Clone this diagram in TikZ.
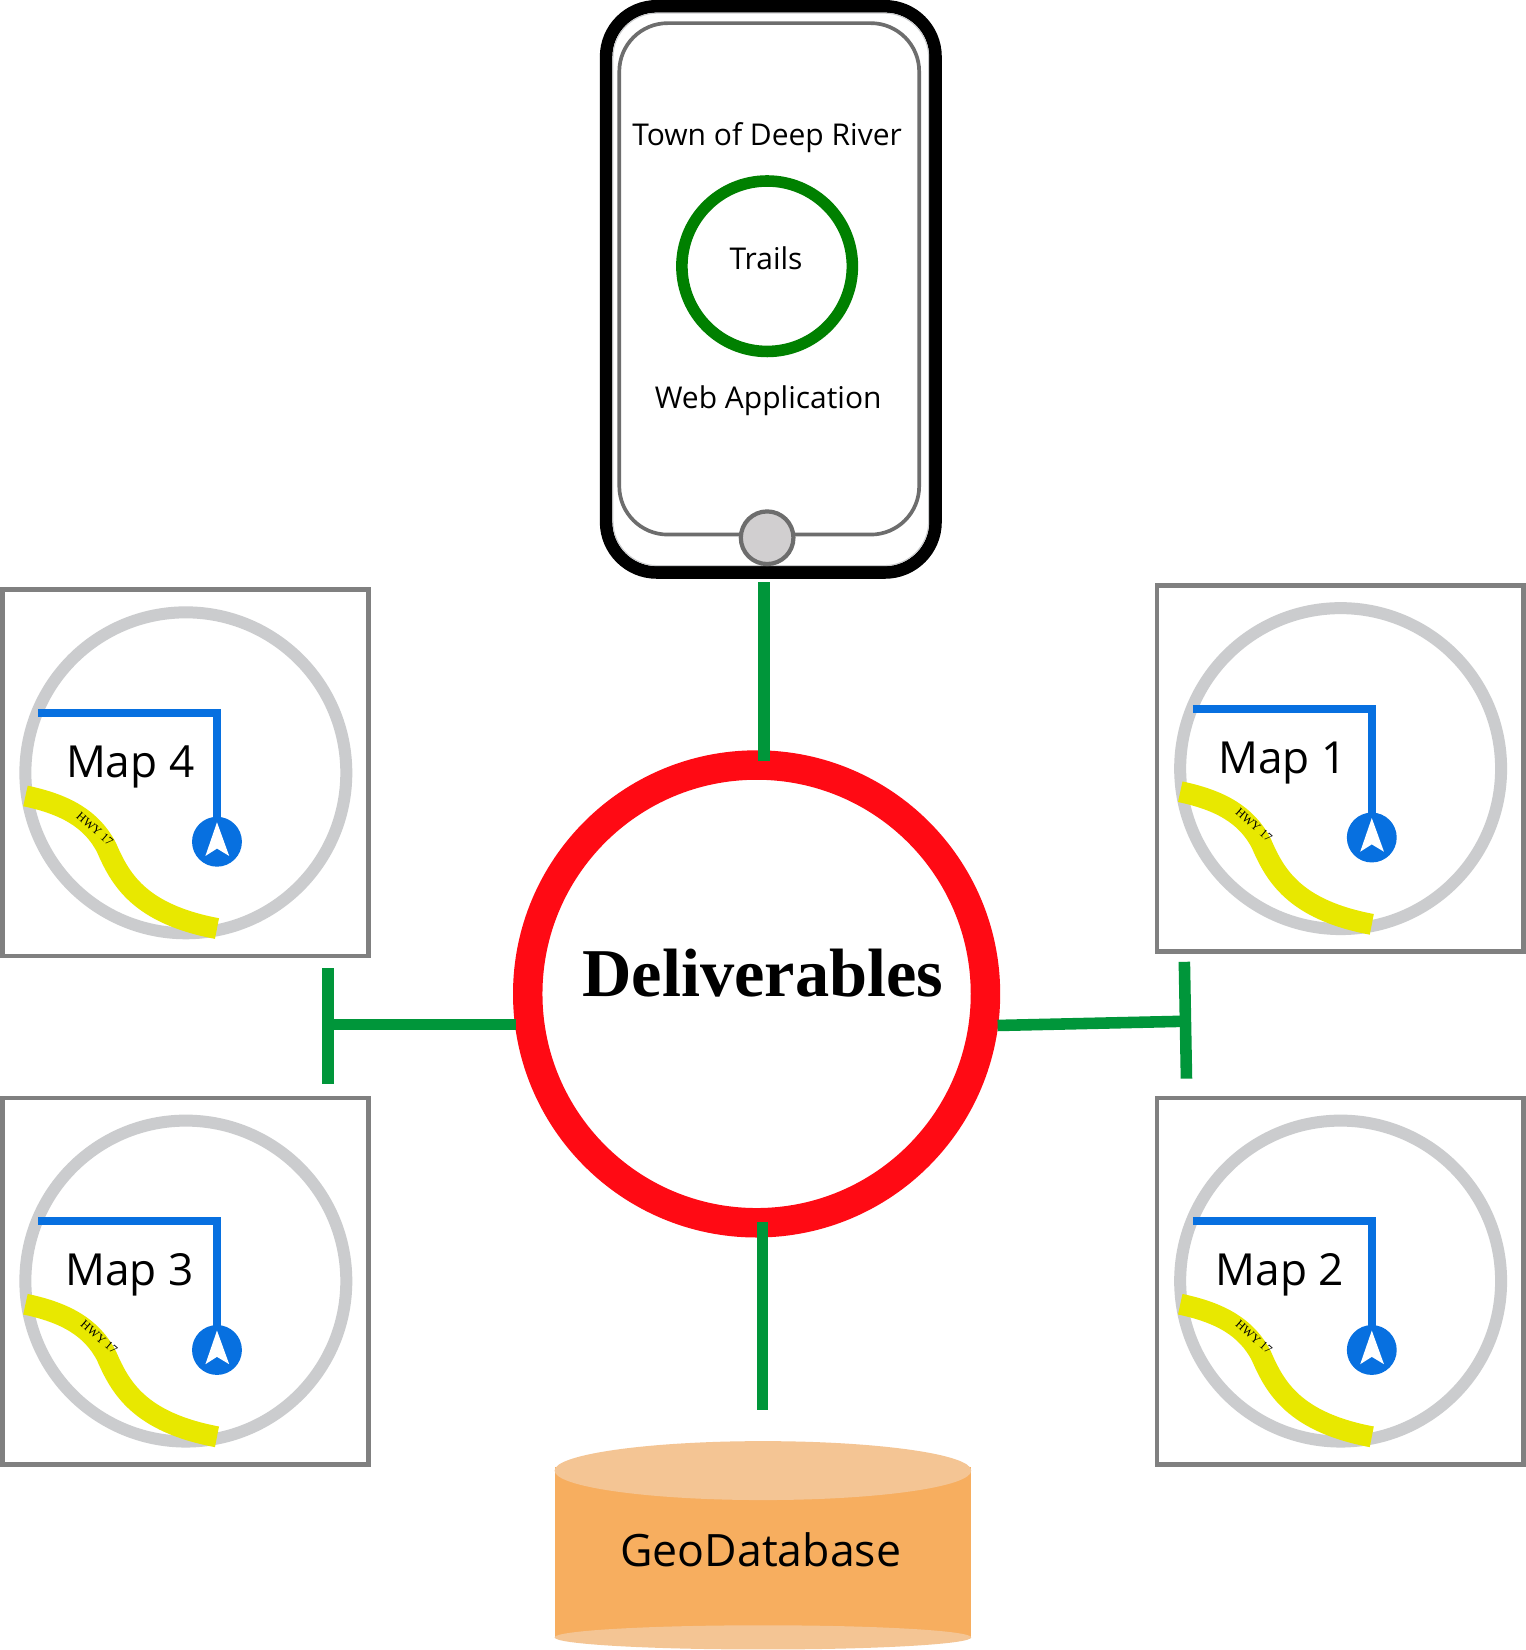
\documentclass[tikz,border=0pt]{standalone}
\usepackage{fontspec}
\newfontfamily\bodyfont{Open Sans}
\newfontfamily\titlefont{Liberation Serif}
\definecolor{greenline}{HTML}{00963A}
\definecolor{ringred}{HTML}{FF0A14}
\definecolor{boxgray}{HTML}{808080}
\definecolor{ringgray}{HTML}{CBCCCE}
\definecolor{pathblue}{HTML}{0770E0}
\definecolor{roadyellow}{HTML}{E8E800}
\definecolor{appgreen}{HTML}{008000}
\definecolor{cylbody}{HTML}{F7AE5F}
\definecolor{cyltop}{HTML}{F4C594}
\definecolor{phonegray}{HTML}{6D6D6D}
\definecolor{homegray}{HTML}{D1CFD0}
\tikzset{
  connector/.style={draw=greenline,line width=11pt},
  mapframe/.style={draw=boxgray,line width=4.5pt,fill=white,minimum width=348pt,minimum height=348pt,inner sep=0pt,outer sep=0pt,anchor=north west},
  mapring/.style={circle,draw=ringgray,line width=11.4pt,minimum size=305pt,inner sep=0pt},
  maplabel/.style={font=\bodyfont\fontsize{42}{42}\selectfont,anchor=base,inner sep=0pt},
  hwylabel/.style={font=\titlefont\fontsize{11.5}{11.5}\selectfont,rotate=-41,inner sep=0pt},
  apptext/.style={font=\bodyfont\fontsize{28.5}{30}\selectfont,anchor=base,inner sep=0pt},
}
% #1 id, #2 x, #3 y, #4 label, #5 label x offset, #6 road label x offset
\newcommand{\mapcard}[6]{%
  \begin{scope}[shift={(#2,#3)}]
    \node[mapframe] (#1frame) at (0,0) {};
    \node[mapring] (#1ring) at (174.4,174) {};
    \draw[pathblue,line width=7.5pt] (34,117) -- (204,117) -- (204,225);
    \fill[pathblue] (204,239.5) circle (23.7);
    \fill[white] (204,221) -- (215.6,253) -- (204,246) -- (193,253) -- cycle;
    \draw[roadyellow,line width=20pt] (22,196) .. controls (60,204) and (85,218) .. (99,245)
       .. controls (112,275) and (130,308) .. (204,322);
    \node[maplabel] (#1label) at (#5,178.5) {#4};
    \node[hwylabel] (#1hwy) at (#6,227.5) {HWY 17};
  \end{scope}}
\begin{document}
\begin{tikzpicture}[x=1pt,y=-1pt]
\useasboundingbox[fill=white] (0,0) rectangle (1450,1568);
% phone
\node[draw=black,line width=12pt,rounded corners=48pt,minimum width=313pt,minimum height=538pt,inner sep=0pt] (phone) at (732.5,275) {};
\node[draw=ringgray,line width=1pt,rounded corners=42pt,minimum width=300pt,minimum height=525pt,inner sep=0pt] (phonerim) at (732.5,275) {};
\node[draw=phonegray,line width=3.5pt,rounded corners=46pt,minimum width=285pt,minimum height=486pt,inner sep=0pt] (screen) at (731,265) {};
\node[circle,draw=phonegray,fill=homegray,line width=4pt,minimum size=50pt,inner sep=0pt] (home) at (729,511) {};
\node[apptext] (town) at (729,138) {Town of Deep River};
\node[circle,draw=appgreen,line width=11pt,minimum size=162pt,inner sep=0pt] (trailring) at (729,253) {};
\node[apptext] (trails) at (728,256) {Trails};
\node[apptext] (web) at (730,388) {Web Application};
% cylinder
\begin{scope}
  \clip (0,0) rectangle (1450,1568);
  \fill[cylbody] (527,1394) -- (527,1555.5) -- (923,1555.5) -- (923,1394) -- cycle;
  \fill[cyltop] (725,1556) ellipse [x radius=198,y radius=11.5];
\end{scope}
\fill[cyltop] (725,1397.5) ellipse [x radius=198,y radius=28];
\node[font=\bodyfont\fontsize{42.4}{44}\selectfont,anchor=base,inner sep=0pt] (geo) at (723,1489) {GeoDatabase};
% maps
\mapcard{mapfour}{2.2}{560.4}{Map 4}{121.5}{88}
\mapcard{mapone}{1099.6}{556.4}{Map 1}{119}{92}
\mapcard{mapthree}{2.2}{1043.4}{Map 3}{121}{92}
\mapcard{maptwo}{1099.6}{1043.4}{Map 2}{116.5}{92}
% hub
\node[circle,draw=ringred,fill=white,line width=28pt,minimum size=435pt,inner sep=0pt] (hub) at (719,944.5) {};
\node[font=\titlefont\bfseries\fontsize{65}{66}\selectfont,anchor=base,inner sep=0pt] (title) at (725,947) {Deliverables};
% connectors
\coordinate (topa) at (726,723);
\coordinate (topb) at (726,553);
\coordinate (bota) at (724.5,1161);
\coordinate (botb) at (724.5,1340);
\coordinate (lefta) at (490,973.5);
\coordinate (leftb) at (312,973.5);
\coordinate (leftt) at (311.5,920);
\coordinate (leftu) at (311.5,1030);
\coordinate (righta) at (948,974.5);
\coordinate (rightb) at (1126,970.5);
\coordinate (rightt) at (1125.5,914);
\coordinate (rightu) at (1127.5,1025);
\draw[connector] (topa) -- (topb);
\draw[connector] (bota) -- (botb);
\draw[connector] (lefta) -- (leftb);
\draw[connector] (leftt) -- (leftu);
\draw[connector] (righta) -- (rightb);
\draw[connector] (rightt) -- (rightu);
\end{tikzpicture}
\end{document}
